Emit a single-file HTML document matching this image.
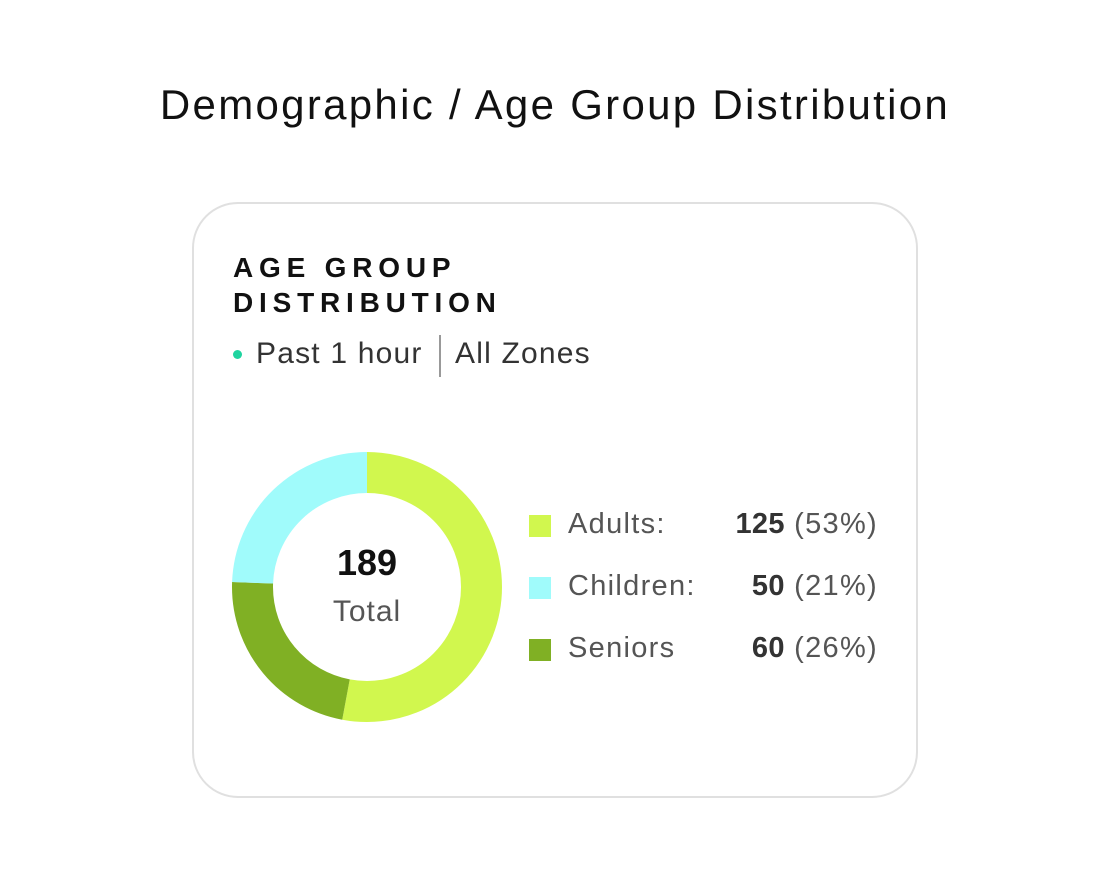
<!DOCTYPE html>
<html><head><style>
body{margin:0;width:1112px;height:886px;background:#fff;font-family:"Liberation Sans",sans-serif;position:relative;overflow:hidden}
.t{position:absolute;white-space:nowrap}
.l{font-size:29px;letter-spacing:1.3px}
</style></head><body>
<div class="t" style="left:0;width:1110px;text-align:center;top:81px;font-size:42px;letter-spacing:2.3px;color:#111">Demographic / Age Group Distribution</div>
<div style="position:absolute;left:192px;top:202px;width:722px;height:592px;border:2px solid #e0e0e0;border-radius:46px"></div>
<div class="t" style="left:233px;top:250px;font-size:28px;font-weight:bold;letter-spacing:5.8px;line-height:35px;color:#111">AGE GROUP<br>DISTRIBUTION</div>
<div style="position:absolute;left:233px;top:350px;width:9px;height:9px;border-radius:50%;background:#1fd4a0"></div>
<div class="t" style="left:256px;top:337px;font-size:30px;letter-spacing:1.2px;color:#333">Past 1 hour</div>
<div style="position:absolute;left:439px;top:335px;width:1.5px;height:42px;background:#999"></div>
<div class="t" style="left:455px;top:337px;font-size:30px;letter-spacing:1.2px;color:#333">All Zones</div>
<svg style="position:absolute;left:0;top:0" width="1112" height="886">
<g transform="rotate(-90 367 587)" fill="none" stroke-width="41">
<circle cx="367" cy="587" r="114.5" stroke="#d1f74e" stroke-dasharray="380.7 1000"/>
<circle cx="367" cy="587" r="114.5" stroke="#80b024" stroke-dasharray="0 380.7 162.9 1000"/>
<circle cx="367" cy="587" r="114.5" stroke="#a0fbfb" stroke-dasharray="0 543.6 175.8 1000"/>
</g>
</svg>
<div class="t" style="left:267px;width:200px;text-align:center;top:542px;font-size:36px;font-weight:bold;color:#111">189</div>
<div class="t" style="left:267px;width:200px;text-align:center;top:595px;font-size:30px;letter-spacing:1px;color:#555">Total</div>
<div style="position:absolute;left:529px;top:515px;width:22px;height:22px;background:#d1f74e"></div>
<div style="position:absolute;left:529px;top:577px;width:22px;height:22px;background:#a0fbfb"></div>
<div style="position:absolute;left:529px;top:639px;width:22px;height:22px;background:#80b024"></div>
<div class="t l" style="left:568px;top:508px;color:#555">Adults:</div>
<div class="t l" style="left:568px;top:570px;color:#555">Children:</div>
<div class="t l" style="left:568px;top:632px;color:#555">Seniors</div>
<div class="t l" style="right:234px;top:508px;color:#555"><b style="color:#333;letter-spacing:0.3px">125</b> (53%)</div>
<div class="t l" style="right:234px;top:570px;color:#555"><b style="color:#333;letter-spacing:0.3px">50</b> (21%)</div>
<div class="t l" style="right:234px;top:632px;color:#555"><b style="color:#333;letter-spacing:0.3px">60</b> (26%)</div>
</body></html>
